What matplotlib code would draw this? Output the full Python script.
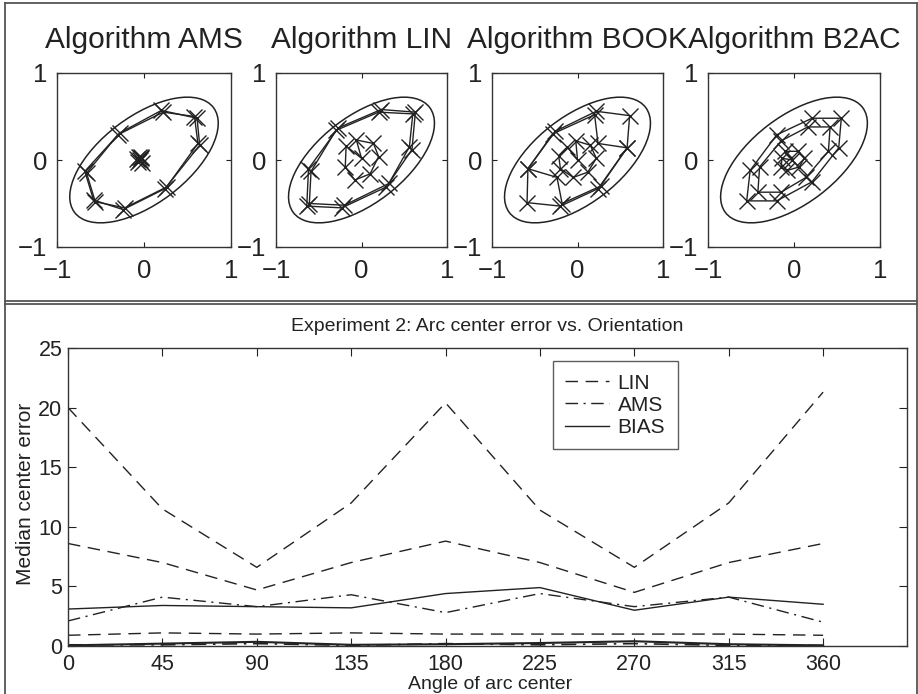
import matplotlib
matplotlib.use("Agg")
import matplotlib.pyplot as plt
from matplotlib.patches import Ellipse
from matplotlib.lines import Line2D
import numpy as np

plt.rcParams['font.family'] = ['Liberation Sans', 'DejaVu Sans']

INK = '#222222'

# ---------------- top panels data ----------------
titles = ["Algorithm AMS", "Algorithm LIN", "Algorithm BOOK", "Algorithm B2AC"]
ellipse_a = 1.0
ellipse_b = 0.5
ellipse_deg = 37

ams_ring_x = [0.20, 0.61, 0.64, 0.24, -0.24, -0.58, -0.68, -0.28]
ams_ring_y = [0.57, 0.48, 0.17, -0.33, -0.57, -0.46, -0.13, 0.31]
ams_ring2_x = [0.22, 0.58, 0.62, 0.26, -0.22, -0.56, -0.66, -0.30]
ams_ring2_y = [0.55, 0.50, 0.19, -0.31, -0.55, -0.48, -0.15, 0.29]
ams_in_x = [-0.05, -0.03, -0.07, -0.04, -0.06, -0.02, -0.08]
ams_in_y = [0.00, 0.02, -0.02, 0.04, 0.03, -0.03, 0.01]

lin_ring_x = [0.23, 0.63, 0.59, 0.29, -0.23, -0.64, -0.62, -0.27]
lin_ring_y = [0.58, 0.55, 0.12, -0.31, -0.55, -0.53, -0.10, 0.37]
lin_ring2_x = [0.20, 0.60, 0.56, 0.32, -0.20, -0.61, -0.59, -0.30]
lin_ring2_y = [0.55, 0.53, 0.15, -0.27, -0.52, -0.50, -0.13, 0.34]
lin_in_x = [-0.06, 0.14, 0.20, 0.10, -0.08, -0.19, -0.18, 0.00]
lin_in_y = [0.23, 0.19, 0.04, -0.16, -0.23, -0.08, 0.16, 0.02]

book_ring_x = [0.22, 0.61, 0.58, 0.24, -0.20, -0.59, -0.58, -0.26]
book_ring_y = [0.56, 0.51, 0.14, -0.33, -0.53, -0.49, -0.10, 0.33]
book_ring2_x = [0.20, 0.24, 0.58, 0.27, -0.18, -0.24, -0.58, -0.29]
book_ring2_y = [0.52, 0.19, 0.14, -0.30, -0.50, -0.20, -0.10, 0.30]
book_in_x = [-0.02, 0.15, 0.22, 0.12, -0.05, -0.20, -0.22, -0.12, 0.00]
book_in_y = [0.22, 0.17, 0.02, -0.14, -0.20, -0.10, 0.05, 0.15, 0.00]

b2ac_ring_x = [0.21, 0.55, 0.52, 0.21, -0.20, -0.55, -0.51, -0.20]
b2ac_ring_y = [0.48, 0.48, 0.14, -0.25, -0.47, -0.47, -0.12, 0.29]
b2ac_ring2_x = [0.16, 0.42, 0.40, 0.14, -0.15, -0.42, -0.40, -0.15]
b2ac_ring2_y = [0.38, 0.38, 0.10, -0.20, -0.37, -0.37, -0.08, 0.22]
b2ac_in_x = [-0.10, 0.05, 0.12, 0.06, -0.08, -0.15, -0.14, -0.02]
b2ac_in_y = [0.10, 0.10, 0.02, -0.08, -0.12, -0.08, 0.02, 0.00]

panels = [
    [(ams_ring_x, ams_ring_y), (ams_ring2_x, ams_ring2_y), (ams_in_x, ams_in_y)],
    [(lin_ring_x, lin_ring_y), (lin_ring2_x, lin_ring2_y), (lin_in_x, lin_in_y)],
    [(book_ring_x, book_ring_y), (book_ring2_x, book_ring2_y), (book_in_x, book_in_y)],
    [(b2ac_ring_x, b2ac_ring_y), (b2ac_ring2_x, b2ac_ring2_y), (b2ac_in_x, b2ac_in_y)],
]
top_ticks = [-1, 0, 1]

# ---------------- bottom panel data ----------------
angles = [0, 45, 90, 135, 180, 225, 270, 315, 360]
lin_high = [20.0, 11.5, 6.6, 12.0, 20.4, 11.4, 6.6, 12.0, 21.3]
lin_mid = [8.6, 7.0, 4.7, 7.0, 8.8, 7.0, 4.5, 7.0, 8.6]
lin_low = [0.9, 1.1, 1.0, 1.1, 1.0, 1.0, 1.0, 1.0, 0.9]
ams_mid = [2.1, 4.1, 3.3, 4.3, 2.8, 4.4, 3.3, 4.1, 2.0]
ams_low = [0.1, 0.1, 0.2, 0.05, 0.2, 0.1, 0.2, 0.05, 0.05]
bias_mid = [3.1, 3.4, 3.3, 3.2, 4.4, 4.9, 3.0, 4.1, 3.5]
bias_low = [0.05, 0.2, 0.35, 0.1, 0.15, 0.25, 0.4, 0.15, 0.05]
x_ticks = [0, 45, 90, 135, 180, 225, 270, 315, 360]
y_ticks = [0, 5, 10, 15, 20, 25]

W, H = 918, 694
fig = plt.figure(figsize=(W / 100, H / 100), dpi=100)
fig.patch.set_facecolor('white')

def rect(l, t, r, b):
    return [l / W, 1 - b / H, (r - l) / W, (b - t) / H]

def fline(x0, y0, x1, y1, lw=1.3, c='#555555'):
    fig.add_artist(Line2D([x0 / W, x1 / W], [1 - y0 / H, 1 - y1 / H],
                          transform=fig.transFigure, color=c, lw=lw))

fline(5, 3, 917, 3)
fline(5, 3, 5, 694)
fline(917, 3, 917, 694)
fline(5, 301, 917, 301)
fline(5, 304, 917, 304)

# top panels
lefts = [57, 276, 492, 708]
rights = [231, 447, 663, 880]
for i in range(4):
    ax = fig.add_axes(rect(lefts[i], 73, rights[i], 247))
    ax.set_xlim(-1, 1)
    ax.set_ylim(-1, 1)
    e = Ellipse((0, 0), 2 * ellipse_a, 2 * ellipse_b, angle=ellipse_deg,
                fill=False, ec=INK, lw=1.1)
    ax.add_patch(e)
    for (xs, ys) in panels[i]:
        ax.plot(list(xs) + [xs[0]], list(ys) + [ys[0]], color=INK, lw=1.0)
        ax.plot(xs, ys, ls='none', marker='x', ms=12, mew=1.0, color=INK)
    ax.set_xticks(top_ticks)
    ax.set_yticks(top_ticks)
    ax.tick_params(direction='in', length=3.5, top=True, right=True,
                   labelsize=18.5, colors=INK, width=0.8)
    ax.tick_params(axis='x', pad=9)
    ax.tick_params(axis='y', pad=7)
    for s in ax.spines.values():
        s.set_color('#333333')
        s.set_linewidth(1.0)
    ax.set_title(titles[i], fontsize=21.5, pad=18, color=INK)

# bottom panel
ax = fig.add_axes(rect(68, 348, 907, 646))
dash = (0, (9, 5.5))
dashdot = (0, (9, 4, 1.5, 4))
ax.plot(angles, lin_high, color=INK, lw=1.0, ls=dash, label='LIN')
ax.plot(angles, lin_mid, color=INK, lw=1.0, ls=dash)
ax.plot(angles, lin_low, color=INK, lw=1.0, ls=dash)
ax.plot(angles, ams_mid, color=INK, lw=1.0, ls=dashdot, label='AMS')
ax.plot(angles, ams_low, color=INK, lw=1.2, ls=dashdot)
ax.plot(angles, bias_mid, color=INK, lw=1.0, ls='-', label='BIAS')
ax.plot(angles, bias_low, color=INK, lw=1.5, ls='-')
ax.set_xlim(0, 400)
ax.set_ylim(0, 25)
ax.set_xticks(x_ticks)
ax.set_yticks(y_ticks)
ax.tick_params(direction='in', length=6, top=True, right=True,
               labelsize=15.5, colors=INK, width=0.8, pad=4)
ax.tick_params(axis='x', pad=5.5)
for s in ax.spines.values():
    s.set_color('#333333')
    s.set_linewidth(1.0)
ax.set_title("Experiment 2: Arc center error vs. Orientation", fontsize=14,
             pad=12, color=INK)
leg = ax.legend(loc='upper left', bbox_to_anchor=(0.578, 0.956), fontsize=15,
                frameon=True, fancybox=False, handlelength=2.1,
                borderpad=0.6, labelspacing=0.15, handletextpad=0.4,
                borderaxespad=0)
leg.get_frame().set_edgecolor('#333333')
leg.get_frame().set_linewidth(1.0)
for t in leg.get_texts():
    t.set_color(INK)

fig.text(26 / W, 1 - 494 / H, "Median center error", rotation=90,
         ha='center', va='center', fontsize=15, color=INK)
fig.text(490 / W, 1 - 693 / H, "Angle of arc center", ha='center',
         va='bottom', fontsize=14, color=INK)

fig.savefig("out.png", dpi=100)
